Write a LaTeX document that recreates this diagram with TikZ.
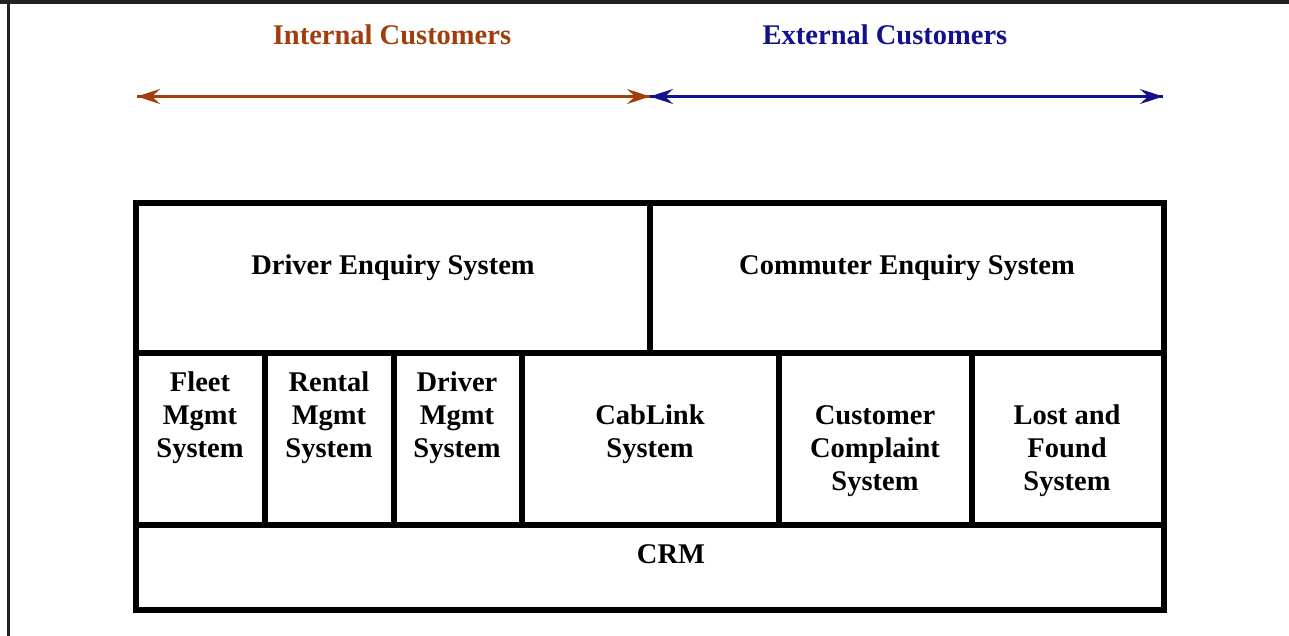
\documentclass[tikz,border=0pt]{standalone}
\usepackage{fontspec}
\setmainfont{Liberation Serif}
\usetikzlibrary{arrows.meta}
\definecolor{intcol}{RGB}{160,62,14}
\definecolor{extcol}{RGB}{18,18,140}
\definecolor{framecol}{RGB}{34,34,34}
\tikzset{
  grid/.style={line width=6pt, draw=black},
  lbl/.style={font=\fontsize{28.5}{33}\selectfont\bfseries, align=center, anchor=base, inner sep=0pt},
  intarrow/.style={draw=intcol, line width=2.6pt, -{Stealth[length=23pt,width=15pt,inset=8pt]}},
  extarrow/.style={draw=extcol, line width=2.6pt, -{Stealth[length=23pt,width=15pt,inset=8pt]}},
}
\begin{document}
\begin{tikzpicture}[x=1pt,y=-1pt]
\useasboundingbox (0,0) rectangle (1289,636);
% page frame
\draw[framecol, line width=4pt] (0,2) -- (1289,2);
\draw[framecol, line width=2.5pt] (8.5,0) -- (8.5,636);
% header labels
\node[lbl, text=intcol] (int) at (392,45) {Internal Customers};
\node[lbl, text=extcol] (ext) at (885,45) {External Customers};
% arrows
\coordinate (aL) at (137,96.5);
\coordinate (aM) at (650,96.5);
\coordinate (aR) at (1163,96.5);
\draw[intarrow] (aM) -- (aL);
\draw[intarrow] (aL) -- (aM);
\draw[extarrow] (aM) -- (aR);
\draw[extarrow] (aR) -- (aM);
% grid
\draw[grid] (135.5,203) rectangle (1164,610);
\draw[grid] (135.5,353) -- (1164,353);
\draw[grid] (135.5,525) -- (1164,525);
\draw[grid] (650,203) -- (650,353);
\draw[grid] (264.5,353) -- (264.5,525);
\draw[grid] (393.5,353) -- (393.5,525);
\draw[grid] (522,353) -- (522,525);
\draw[grid] (779,353) -- (779,525);
\draw[grid] (972,353) -- (972,525);
% cell texts (base anchor = baseline of last line)
\node[lbl] (des) at (393,274) {Driver Enquiry System};
\node[lbl] (ces) at (907,274) {Commuter Enquiry System};
\node[lbl] (fleet) at (200,457) {Fleet\\Mgmt\\System};
\node[lbl] (rental) at (329,457) {Rental\\Mgmt\\System};
\node[lbl] (driver) at (457,457) {Driver\\Mgmt\\System};
\node[lbl] (cab) at (650,457) {CabLink\\System};
\node[lbl] (ccs) at (875,490) {Customer\\Complaint\\System};
\node[lbl] (lost) at (1067,490) {Lost and\\Found\\System};
\node[lbl] (crm) at (671,563) {CRM};
\end{tikzpicture}
\end{document}
